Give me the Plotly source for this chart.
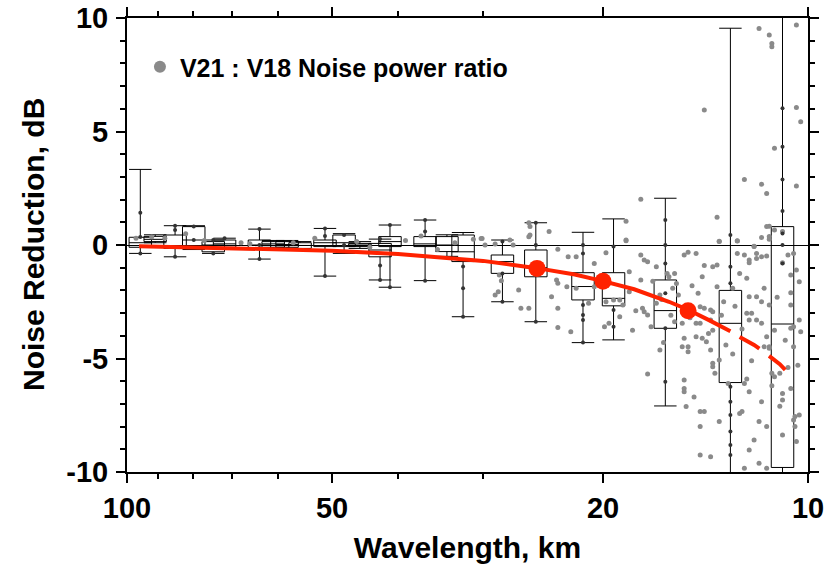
import plotly.graph_objects as go

FONT = "Liberation Sans, Arial, Helvetica, sans-serif"

# ---------------- data ----------------
# Box-plot bins: centre wavelength (km) and statistics (dB)
bin_wl = [95.6, 90.9, 85.0, 79.8, 74.7, 71.9, 63.9, 61.0, 58.2, 55.7, 51.2, 48.0, 45.5,
          42.5, 41.1, 36.5, 33.9, 32.1, 28.1, 25.1, 21.4, 19.3, 16.2, 13.0, 10.9]
bin_lo = [-0.37, 0.10, -0.52, -0.20, -0.37, -0.15, -0.62, -0.15, -0.15, -0.20, -1.37, -0.37, -0.15,
          -1.54, -1.86, -1.57, -0.50, -3.16, -2.50, -3.38, -4.30, -4.18, -7.09, -10.5, -10.3]
bin_q1 = [-0.10, 0.15, -0.15, -0.10, -0.30, -0.10, -0.15, -0.10, -0.10, -0.15, -0.07, -0.07, -0.07,
          -0.52, -0.07, -0.07, -0.29, -0.73, -1.25, -1.40, -2.42, -2.68, -3.67, -6.06, -9.80]
bin_med = [0.10, 0.25, -0.04, 0.22, 0.00, 0.05, 0.00, 0.05, 0.02, -0.02, 0.10, 0.10, 0.00,
           -0.22, 0.15, 0.05, 0.00, -0.30, -0.73, -1.00, -1.83, -2.35, -2.89, -3.45, -3.48]
bin_q3 = [0.34, 0.38, 0.44, 0.81, 0.15, 0.22, 0.22, 0.15, 0.15, 0.10, 0.22, 0.44, 0.07,
          0.07, 0.37, 0.37, 0.37, 0.44, -0.44, -0.22, -1.22, -1.22, -1.54, -2.00, 0.81]
bin_hi = [3.33, 0.45, 0.85, 0.85, 0.22, 0.30, 0.70, 0.20, 0.20, 0.15, 0.73, 0.50, 0.15,
          0.26, 0.88, 1.10, 0.45, 0.55, 0.22, 0.98, 0.56, 1.15, 2.06, 9.55, 10.5]

# Points plotted on the whiskers of each bin
whisk_wl = [95.6, 95.6, 95.6, 85.0, 85.0, 85.0, 79.8, 79.8, 74.7, 74.7, 71.9, 63.9, 63.9, 63.9,
            51.2, 51.2, 51.2, 48.0, 48.0, 42.5, 42.5, 42.5, 41.1, 41.1, 36.5, 36.5, 36.5,
            32.1, 32.1, 32.1, 28.1, 28.1, 28.1, 25.1, 25.1, 25.1, 21.4, 21.4, 21.4, 21.4, 21.4, 21.4,
            19.3, 19.3, 19.3, 16.2, 16.2, 16.2, 16.2, 16.2, 16.2,
            13.0, 13.0, 13.0, 13.0, 13.0, 13.0, 13.0, 13.0, 13.0,
            10.9, 10.9, 10.9, 10.9, 10.9, 10.9, 10.9]
whisk_db = [1.42, 0.35, -0.37, 0.85, 0.66, -0.52, 0.81, 0.22, 0.22, -0.37, 0.30, 0.70, -0.62, 0.00,
            0.73, 0.40, -1.37, 0.44, 0.00, 0.26, -0.90, -1.54, 0.88, -1.86, 1.10, 0.60, -1.57,
            -0.95, -1.90, -3.16, 0.15, -1.25, -2.50, 0.98, 0.00, -3.38, 0.00, -0.37, -2.64, -3.08, -3.30, -4.30,
            -0.07, -2.86, -3.60, 1.10, 0.00, -0.81, -2.13, -3.67, -6.02,
            0.44, -0.96, -1.69, -6.24, -6.90, -7.49, -8.22, -8.81, -9.25,
            6.02, 4.33, 2.89, 1.50, 0.51, 0.00, -0.81]

# V21 : V18 noise power ratio samples (wavelength km, dB)
ratio_wl = [30.1, 29.8, 28.8, 27.4, 27.1, 25.6, 25.6, 24.0, 23.3, 22.5, 21.9, 20.6, 19.8, 18.5,
            17.6, 17.4, 17.2, 16.7, 16.1, 15.7, 15.2, 15.0, 14.6, 14.3, 13.8, 13.6, 13.5, 12.7,
            12.7, 12.4, 12.2, 12.2, 11.9, 12.0, 11.4, 11.5, 10.9, 11.2, 10.5, 10.7, 10.9, 10.6,
            11.5, 11.7,
            28.4, 28.2, 28.5, 28.8, 26.6, 26.4, 25.7, 23.4, 23.3, 23.8, 23.3, 23.3, 22.3, 22.6,
            21.9, 21.0, 20.6, 19.8, 19.9, 19.6, 19.3, 18.9, 18.7, 18.9, 18.3, 18.3, 18.1, 17.6,
            17.5, 17.4, 17.2, 16.7, 16.5, 15.8, 16.0, 15.7, 15.3, 15.2, 15.0, 15.3, 15.0, 14.6,
            14.4, 14.5, 14.4, 14.2, 14.6, 14.1, 14.3, 13.8, 13.9, 13.8, 13.8, 13.5, 13.7, 13.6,
            13.9, 13.9, 13.8, 12.6, 12.3, 12.2, 12.3, 12.2, 12.1, 11.9, 11.9, 11.7, 11.7, 11.6,
            11.5, 11.4, 11.4, 11.2, 11.0, 10.6, 10.6, 10.5, 10.5, 10.3, 10.3, 10.25,
            17.2, 16.5, 15.2, 15.2, 15.2, 15.1, 14.4, 14.2, 14.4, 13.5, 14.4, 13.9, 13.1, 12.6,
            12.5, 12.4, 12.2, 12.2, 12.0, 11.8, 11.8, 11.5, 11.7, 11.5, 11.4, 10.9, 10.9, 10.6,
            10.9, 10.5, 10.45, 10.4, 10.45, 10.3, 12.4, 11.3, 11.2,
            11.8, 11.4, 11.3, 11.3, 14.2, 11.2, 12.4, 11.7, 11.5, 13.6, 10.4, 10.4, 10.4, 17.6,
            18.5, 18.5, 25.7, 25.7, 30.2, 13.5, 12.7, 12.0, 11.7, 11.4, 11.4, 10.25,
            97.0, 92.0, 88.0, 82.0, 77.0, 68.0, 66.0, 57.0, 53.0, 46.0, 44.0, 39.0, 37.0, 35.0,
            33.0, 31.0,
            16.9, 16.4, 15.9, 15.5, 14.8, 14.0, 13.3, 12.9, 12.5, 12.1, 11.6, 11.1, 10.8, 10.35,
            17.9, 17.0, 16.3, 15.6, 14.9, 14.2, 13.2, 12.8, 12.3, 11.9, 11.3, 10.7, 10.4, 14.7,
            13.4, 12.9, 11.0, 10.6]
ratio_db = [0.29, 0.00, 0.04, 0.22, 0.00, 0.44, 0.81, 0.59, -0.19, -0.52, -0.52, -0.81, -0.34, 0.19,
            -0.44, -0.66, -0.74, -0.96, -1.25, -1.25, -0.44, -0.32, -0.37, -1.40, -0.96, -0.88, 0.15, 0.18,
            -0.37, -0.44, -0.66, -0.78, -0.37, -0.07, 0.37, 0.81, 0.59, 0.66, -0.37, -0.44, -0.78, -1.32,
            -0.49, -0.52,
            -1.32, -1.57, -2.06, -2.20, -1.98, -2.79, -2.79, -1.54, -1.69, -2.28, -2.79, -3.63, -3.82, -1.84,
            -1.91, -2.57, -1.84, -2.50, -3.60, -3.45, -2.42, -2.42, -2.64, -3.16, -2.06, -1.18, -3.75, -1.54,
            -2.79, -2.94, -3.08, -2.57, -2.20, -1.91, -1.40, -3.38, -3.45, -4.11, -4.48, -4.48, -4.70, -3.45,
            -3.45, -2.13, -2.72, -2.79, -4.04, -4.26, -4.11, -3.75, -4.63, -5.21, -5.36, -5.07, -5.65, -1.84,
            -2.86, -3.30, -2.94, -1.25, -1.47, -2.28, -3.01, -3.30, -3.01, -2.28, -3.30, -2.50, -3.45, -4.48,
            -4.04, -4.48, -2.64, -3.75, -5.65, -2.64, -3.67, -3.60, -4.48, -1.62, -3.30, -3.82,
            -5.68, -4.63, -5.95, -6.32, -6.46, -7.12, -7.34, -7.34, -8.00, -7.78, -9.25, -9.33, -6.10, -7.42,
            -7.34, -6.10, -6.46, -9.03, -8.59, -7.78, -9.62, -9.84, -6.90, -8.00, -4.55, -6.54, -6.83, -6.32,
            -8.37, -7.71, -7.56, -8.66, -8.00, -7.49, -9.84, -5.65, -5.80,
            9.54, 9.25, 8.88, 8.73, 5.95, 4.26, 2.89, 2.68, 2.27, 1.22, 6.06, 2.60, 9.69, 2.02,
            1.05, 0.22, 0.98, 0.36, 0.29, 0.16, 0.19, -0.05, 0.33, 0.25, 0.83, 5.43,
            0.30, 0.35, 0.30, 0.50, 0.20, 0.10, 0.05, 0.10, 0.30, 0.15, -0.10, 0.20, 0.40, -0.20,
            0.10, 0.25,
            -1.60, -2.40, -3.10, -2.20, -1.80, -3.90, -2.50, -4.80, -3.70, -5.10, -1.90, -2.30, -4.20, -5.30,
            -2.90, -3.60, -4.30, -1.70, -3.20, -0.90, -4.40, -2.70, -5.90, -0.60, -6.20, -5.40, -1.10, -6.70,
            -3.10, -1.90, -7.10, -2.10]

# Fitted noise-reduction curve (solid) and its extrapolation (dashed)
fit_wl = [96, 90, 80, 70, 60, 50, 40, 35, 30, 25, 22, 20, 18, 16, 15, 14, 13]
fit_db = [-0.05, -0.07, -0.10, -0.13, -0.18, -0.25, -0.40, -0.52, -0.70, -1.02, -1.30, -1.59,
          -1.95, -2.50, -2.85, -3.30, -3.80]
ext_wl = [12.6, 12.0, 11.5, 11.0, 10.8]
ext_db = [-4.05, -4.40, -4.80, -5.25, -5.50]
mark_wl = [25, 20, 15]
mark_db = [-1.03, -1.60, -2.90]

# tick labels
x_ticks = [100, 50, 20, 10]
x_minor = [90, 80, 70, 60, 40, 30]
y_ticks = [-10, -5, 0, 5, 10]

RED = "#ff2200"
GRAY = "#8a8a8a"
BOX_WIDTH_DECADES = 0.033

fig = go.Figure()

fig.add_trace(go.Scatter(
    x=ratio_wl, y=ratio_db, mode="markers", name="V21 : V18 Noise power ratio",
    marker=dict(color=GRAY, size=5), showlegend=True, hoverinfo="skip"))

for i, wl in enumerate(bin_wl):
    fig.add_trace(go.Box(
        x=[wl], q1=[bin_q1[i]], median=[bin_med[i]], q3=[bin_q3[i]],
        lowerfence=[bin_lo[i]], upperfence=[bin_hi[i]],
        width=BOX_WIDTH_DECADES, whiskerwidth=1, boxpoints=False,
        line=dict(color="black", width=1), fillcolor="rgba(0,0,0,0)",
        showlegend=False, hoverinfo="skip"))

fig.add_trace(go.Scatter(
    x=whisk_wl, y=whisk_db, mode="markers", marker=dict(color="#333333", size=4),
    showlegend=False, hoverinfo="skip"))

fig.add_trace(go.Scatter(
    x=fit_wl, y=fit_db, mode="lines", line=dict(color=RED, width=4),
    showlegend=False, hoverinfo="skip"))
fig.add_trace(go.Scatter(
    x=ext_wl, y=ext_db, mode="lines", line=dict(color=RED, width=4, dash="23px,12px"),
    showlegend=False, hoverinfo="skip"))
fig.add_trace(go.Scatter(
    x=mark_wl, y=mark_db, mode="markers", marker=dict(color=RED, size=17),
    showlegend=False, hoverinfo="skip"))

axis_font = dict(family=FONT, size=29, color="black", weight="bold")
xtitle_font = dict(family=FONT, size=30, color="black", weight="bold")
ytitle_font = dict(family=FONT, size=30, color="black", weight="bold")

fig.update_layout(
    width=835, height=569,
    margin=dict(l=127, r=27, t=18, b=97, pad=0, autoexpand=False),
    paper_bgcolor="white", plot_bgcolor="white",
    boxmode="overlay",
    font=dict(family=FONT, color="black"),
    legend=dict(x=0.019, y=0.892, xanchor="left", yanchor="middle",
                bgcolor="rgba(0,0,0,0)", itemsizing="constant",
                font=dict(family=FONT, size=25, color="black", weight="bold")),
    xaxis=dict(
        type="log", range=[2, 1], tickmode="array", tickvals=x_ticks,
        ticktext=[str(v) for v in x_ticks], automargin=False,
        ticks="outside", ticklen=9, tickwidth=2, tickcolor="black",
        showline=True, linewidth=2, linecolor="black", mirror="ticks",
        showgrid=False, zeroline=False, tickfont=axis_font,
        minor=dict(tickmode="array", tickvals=x_minor, ticks="outside",
                   ticklen=5, tickwidth=1.5, tickcolor="black", showgrid=False),
        title=dict(text="Wavelength, km", font=xtitle_font, standoff=14)),
    yaxis=dict(
        range=[-10, 10], tickmode="array", tickvals=y_ticks,
        ticktext=[str(v) for v in y_ticks], automargin=False,
        ticks="outside", ticklen=9, tickwidth=2, tickcolor="black",
        ticklabelstandoff=2,
        showline=True, linewidth=2, linecolor="black", mirror="ticks",
        showgrid=False, zeroline=True, zerolinecolor="black", zerolinewidth=1,
        tickfont=axis_font,
        minor=dict(dtick=1, ticks="outside", ticklen=5, tickwidth=1.5,
                   tickcolor="black", showgrid=False)),
    annotations=[dict(text="Noise Reduction, dB", textangle=-90, showarrow=False,
                      xref="paper", yref="paper", x=-0.138, y=0.5,
                      xanchor="center", yanchor="middle", font=ytitle_font)],
)

fig.write_html("out.html", config={"displayModeBar": False},
               post_script="document.body.style.margin='0';document.body.style.padding='0';")
